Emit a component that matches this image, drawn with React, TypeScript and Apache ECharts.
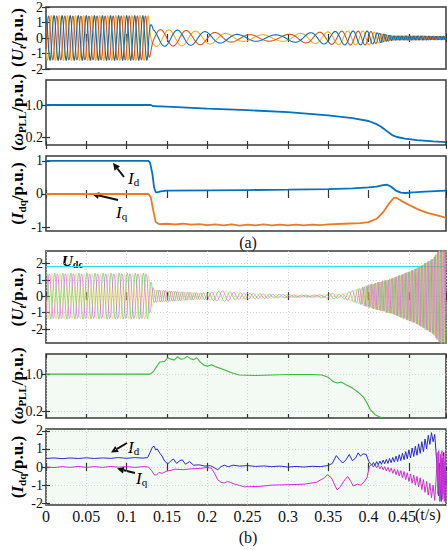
import React, { useEffect, useRef } from 'react';
import * as echarts from 'echarts';

// ---------- shared time axis ----------
const X_MAX = 0.496;
const X_INTERVAL = 0.05;

// ---------- tick labels ----------
const TICKS_UT = [-2, -1, 0, 1, 2];
const TICKS_W = [0.2, 1.0];
const TICKS_IDQ_A = [-1, 0, 1];
const TICKS_IDQ_B = [-2, -1, 0, 1, 2];

// ---------- (a) Ut: envelope / period keyframes ----------
const A_UT_T = [0, 0.127, 0.133, 0.17, 0.2, 0.24, 0.29, 0.33, 0.37, 0.4, 0.415, 0.43, 0.496];
const A_UT_AMP = [1.45, 1.45, 0.55, 0.5, 0.4, 0.22, 0.2, 0.35, 0.45, 0.45, 0.3, 0.15, 0.12];
const A_UT_PER = [0.01, 0.01, 0.03, 0.033, 0.037, 0.045, 0.05, 0.035, 0.022, 0.015, 0.008, 0.005, 0.0045];

// ---------- (a) wPLL ----------
const A_W: [number, number][] = [
  [0, 1], [0.13, 1], [0.133, 0.97], [0.15, 0.96], [0.2, 0.91], [0.25, 0.87], [0.3, 0.82],
  [0.35, 0.74], [0.38, 0.67], [0.4, 0.6], [0.41, 0.52], [0.415, 0.46], [0.42, 0.39],
  [0.425, 0.31], [0.43, 0.24], [0.435, 0.2], [0.445, 0.16], [0.46, 0.12], [0.48, 0.09], [0.496, 0.07],
];

// ---------- (a) Idq ----------
const A_ID: [number, number][] = [
  [0, 1], [0.127, 1], [0.129, 0.95], [0.132, 0.6], [0.134, 0.2], [0.136, 0.06], [0.138, 0.05],
  [0.142, 0.08], [0.15, 0.1], [0.2, 0.11], [0.25, 0.12], [0.3, 0.13], [0.35, 0.15], [0.38, 0.17],
  [0.4, 0.2], [0.41, 0.22], [0.418, 0.27], [0.423, 0.28], [0.428, 0.22], [0.434, 0.1], [0.44, 0.04],
  [0.446, 0.03], [0.455, 0.05], [0.47, 0.07], [0.496, 0.1],
];
const A_IQ: [number, number][] = [
  [0, 0], [0.127, 0], [0.13, -0.1], [0.133, -0.5], [0.136, -0.85], [0.14, -0.91], [0.15, -0.9],
  [0.16, -0.92], [0.17, -0.9], [0.18, -0.93], [0.19, -0.91], [0.2, -0.94], [0.21, -0.92],
  [0.22, -0.95], [0.23, -0.92], [0.24, -0.96], [0.25, -0.93], [0.26, -0.95], [0.27, -0.92],
  [0.28, -0.95], [0.29, -0.93], [0.3, -0.95], [0.31, -0.93], [0.32, -0.95], [0.33, -0.93],
  [0.34, -0.94], [0.35, -0.92], [0.37, -0.9], [0.39, -0.88], [0.4, -0.85], [0.41, -0.75],
  [0.418, -0.55], [0.425, -0.3], [0.431, -0.12], [0.435, -0.12], [0.44, -0.2], [0.45, -0.33],
  [0.46, -0.45], [0.47, -0.55], [0.48, -0.62], [0.49, -0.68], [0.496, -0.72],
];

// ---------- (b) Ut: envelope / period keyframes ----------
const B_UT_T = [0, 0.126, 0.134, 0.16, 0.19, 0.205, 0.22, 0.24, 0.28, 0.32, 0.345, 0.355, 0.365, 0.38, 0.39, 0.4, 0.43, 0.46, 0.48, 0.49, 0.496];
const B_UT_AMP = [1.4, 1.4, 0.4, 0.3, 0.2, 0.25, 0.33, 0.2, 0.12, 0.06, 0.08, 0.2, 0.08, 0.35, 0.5, 0.7, 1.1, 1.7, 2.3, 3.0, 3.2];
const B_UT_PER = [0.01, 0.01, 0.0075, 0.0075, 0.008, 0.012, 0.015, 0.012, 0.012, 0.015, 0.02, 0.012, 0.012, 0.012, 0.006, 0.0045, 0.0042, 0.004, 0.004, 0.004, 0.004];
const B_UDC: [number, number][] = [[0, 1.8], [0.1, 1.81], [0.2, 1.8], [0.3, 1.81], [0.4, 1.8], [0.496, 1.8]];

// ---------- (b) wPLL ----------
const B_W: [number, number][] = [
  [0, 1], [0.129, 1], [0.133, 1.05], [0.138, 1.18], [0.141, 1.26], [0.147, 1.27], [0.151, 1.35],
  [0.155, 1.32], [0.159, 1.3], [0.163, 1.37], [0.167, 1.32], [0.171, 1.33], [0.175, 1.38],
  [0.179, 1.33], [0.183, 1.31], [0.187, 1.35], [0.191, 1.26], [0.196, 1.19], [0.2, 1.17],
  [0.205, 1.2], [0.21, 1.16], [0.22, 1.1], [0.23, 1.03], [0.24, 0.98], [0.26, 0.97], [0.3, 0.99],
  [0.33, 0.99], [0.342, 0.98], [0.35, 0.93], [0.356, 0.84], [0.361, 0.81], [0.366, 0.83],
  [0.372, 0.77], [0.38, 0.7], [0.388, 0.6], [0.394, 0.5], [0.398, 0.38], [0.402, 0.24],
  [0.408, 0.13], [0.414, 0.08], [0.418, 0.06],
];

// ---------- (b) Idq ----------
const B_ID: [number, number][] = [
  [0, 0.47], [0.01, 0.5], [0.02, 0.46], [0.03, 0.5], [0.04, 0.47], [0.05, 0.51], [0.06, 0.47],
  [0.07, 0.5], [0.08, 0.48], [0.09, 0.52], [0.1, 0.48], [0.11, 0.52], [0.12, 0.49], [0.126, 0.52],
  [0.129, 0.8], [0.132, 1.1], [0.134, 1.15], [0.136, 0.95], [0.138, 1.0], [0.141, 0.77],
  [0.144, 0.6], [0.147, 0.33], [0.151, 0.17], [0.155, 0.35], [0.158, 0.44], [0.162, 0.2],
  [0.166, 0.35], [0.169, 0.4], [0.173, 0.15], [0.178, 0.3], [0.183, 0.1], [0.19, 0.12],
  [0.197, 0.05], [0.204, 0.07], [0.209, -0.05], [0.213, -0.15], [0.217, 0.02], [0.221, 0.1],
  [0.226, 0.02], [0.232, 0.1], [0.24, 0.05], [0.25, 0.08], [0.26, 0.03], [0.27, 0.06],
  [0.28, 0.02], [0.29, 0.05], [0.3, 0.0], [0.31, 0.03], [0.32, 0.0], [0.33, 0.04], [0.34, 0.02],
  [0.35, 0.08], [0.355, 0.2], [0.36, 0.63], [0.364, 0.4], [0.368, 0.22], [0.372, 0.4],
  [0.376, 0.69], [0.38, 0.35], [0.384, 0.5], [0.387, 0.78], [0.39, 0.6], [0.393, 0.72],
  [0.397, 0.7], [0.4, 0.33],
  [0.402, 0.2], [0.404, 0.1], [0.406, 0.25], [0.408, 0.1], [0.41, 0.3], [0.412, 0.12],
  [0.414, 0.33], [0.416, 0.15], [0.418, 0.38], [0.42, 0.18], [0.422, 0.42], [0.424, 0.2],
  [0.426, 0.47], [0.428, 0.24], [0.43, 0.53], [0.432, 0.27], [0.434, 0.6], [0.436, 0.3],
  [0.438, 0.68], [0.44, 0.35], [0.442, 0.76], [0.444, 0.4], [0.446, 0.85], [0.448, 0.45],
  [0.45, 0.95], [0.452, 0.5], [0.454, 1.05], [0.456, 0.58], [0.458, 1.15], [0.46, 0.65],
  [0.462, 1.28], [0.464, 0.75], [0.466, 1.4], [0.468, 0.85], [0.47, 1.55], [0.472, 1.0],
  [0.474, 1.75], [0.476, 1.25], [0.478, 1.9], [0.48, 1.4], [0.482, 1.8], [0.484, 0.6],
  [0.486, -0.8], [0.487, -1.6], [0.488, 0.2], [0.489, -1.2], [0.49, -1.9], [0.491, 0.5],
  [0.492, -1.5], [0.493, 0.8], [0.494, -1.7], [0.495, 0.3], [0.496, -1.0],
];
const B_IQ: [number, number][] = [
  [0, 0.0], [0.01, -0.03], [0.02, 0.02], [0.03, -0.02], [0.04, 0.03], [0.05, -0.02], [0.06, 0.02],
  [0.07, -0.02], [0.08, 0.03], [0.09, -0.01], [0.1, 0.02], [0.11, -0.02], [0.12, 0.02],
  [0.127, 0.0], [0.131, -0.2], [0.134, -0.42], [0.137, -0.45], [0.14, -0.3], [0.144, -0.35],
  [0.15, -0.22], [0.155, -0.18], [0.16, -0.12], [0.17, -0.15], [0.18, -0.1], [0.19, -0.08],
  [0.2, -0.03], [0.205, -0.06], [0.209, -0.35], [0.213, -0.7], [0.217, -0.85], [0.221, -0.88],
  [0.225, -0.8], [0.229, -0.85], [0.234, -0.95], [0.24, -1.02], [0.246, -1.1], [0.255, -1.08],
  [0.265, -1.07], [0.28, -1.0], [0.3, -0.98], [0.32, -0.95], [0.335, -0.85], [0.345, -0.6],
  [0.349, -0.43], [0.354, -0.6], [0.358, -1.0], [0.361, -1.26], [0.365, -1.1], [0.369, -0.8],
  [0.374, -0.52], [0.378, -0.8], [0.381, -1.05], [0.386, -0.95], [0.39, -1.0], [0.394, -0.85],
  [0.398, -0.6], [0.401, 0.04],
  [0.402, 0.05], [0.404, 0.15], [0.406, 0.0], [0.408, 0.12], [0.41, -0.05], [0.412, 0.1],
  [0.414, -0.1], [0.416, 0.06], [0.418, -0.16], [0.42, 0.02], [0.422, -0.22], [0.424, -0.02],
  [0.426, -0.28], [0.428, -0.06], [0.43, -0.35], [0.432, -0.1], [0.434, -0.42], [0.436, -0.15],
  [0.438, -0.5], [0.44, -0.2], [0.442, -0.6], [0.444, -0.25], [0.446, -0.7], [0.448, -0.32],
  [0.45, -0.8], [0.452, -0.38], [0.454, -0.9], [0.456, -0.45], [0.458, -1.0], [0.46, -0.52],
  [0.462, -1.1], [0.464, -0.6], [0.466, -1.25], [0.468, -0.7], [0.47, -1.4], [0.472, -0.8],
  [0.474, -1.55], [0.476, -0.9], [0.478, -1.7], [0.48, -1.0], [0.482, -1.85], [0.484, -0.5],
  [0.485, 0.8], [0.486, -1.5], [0.487, 0.9], [0.488, -1.9], [0.489, 0.7], [0.49, -1.6],
  [0.491, 0.9], [0.492, -1.8], [0.493, 0.6], [0.494, -1.9], [0.495, 0.8], [0.496, -1.4],
];

// piecewise-linear lookup of a keyframe table
function lookup(ts: number[], vs: number[], t: number) {
  if (t <= ts[0]) return vs[0];
  for (let i = 1; i < ts.length; i++) {
    if (t <= ts[i]) {
      const f = (t - ts[i - 1]) / (ts[i] - ts[i - 1]);
      return vs[i - 1] + f * (vs[i] - vs[i - 1]);
    }
  }
  return vs[vs.length - 1];
}

// three-phase carrier following the read envelope and period
function threePhase(ts: number[], amps: number[], pers: number[], phase0: number) {
  const out: [number, number][][] = [[], [], []];
  const dt = 0.0002;
  const n = Math.round(X_MAX / dt);
  let ph = phase0;
  for (let i = 0; i <= n; i++) {
    const t = i * dt;
    const a = lookup(ts, amps, t);
    const p = lookup(ts, pers, t);
    for (let k = 0; k < 3; k++) {
      out[k].push([t, a * Math.sin(ph - (k * 2 * Math.PI) / 3)]);
    }
    ph += (2 * Math.PI * dt) / p;
  }
  return out;
}

const SERIF = "'Liberation Serif', 'Times New Roman', serif";

export default function App() {
  const ref = useRef<HTMLDivElement>(null);
  useEffect(() => {
    if (!ref.current) return;
    const chart = echarts.init(ref.current, null, { renderer: 'svg' });

    const grids = [
      { top: 6, height: 63, bg: '#ffffff', split: false },
      { top: 80, height: 65, bg: '#ffffff', split: false },
      { top: 156, height: 75, bg: '#ffffff', split: false },
      { top: 251, height: 92, bg: '#ffffff', split: true },
      { top: 354, height: 64, bg: '#f3f9f3', split: true },
      { top: 429, height: 76, bg: '#f3f9f3', split: true },
    ];
    const yCfg = [
      { min: -2, max: 2, labels: TICKS_UT, step: 1, fmt: (v: number) => String(v) },
      { min: 0, max: 1.625, labels: TICKS_W, step: 0.2, fmt: (v: number) => v.toFixed(1) },
      { min: -1.12, max: 1.15, labels: TICKS_IDQ_A, step: 1, fmt: (v: number) => String(v) },
      { min: -2.85, max: 2.75, labels: TICKS_UT, step: 1, fmt: (v: number) => String(v) },
      { min: 0.06, max: 1.43, labels: TICKS_W, step: 0.2, fmt: (v: number) => v.toFixed(1) },
      { min: -2.1, max: 2.1, labels: TICKS_IDQ_B, step: 1, fmt: (v: number) => String(v) },
    ];

    const tickStyle = { inside: true, length: 4, lineStyle: { color: '#333', width: 1.2 } };
    const splitStyle = { show: true, lineStyle: { color: '#c8c8c8', type: [1, 2] as any, width: 0.8 } };

    const xAxis: any[] = [];
    const yAxis: any[] = [];
    grids.forEach((g, i) => {
      const last = i === grids.length - 1;
      xAxis.push({
        type: 'value', gridIndex: i, min: 0, max: X_MAX, interval: X_INTERVAL,
        axisLine: { show: false }, axisTick: tickStyle,
        axisLabel: {
          show: last, showMaxLabel: false, margin: 3, fontSize: 16, color: '#111', fontFamily: SERIF,
          formatter: (v: number) => {
            const s = String(+v.toFixed(2));
            return s === '0.45' ? '{r|0.45}' : s;
          },
          rich: { r: { fontSize: 16, fontFamily: SERIF, color: '#111', padding: [0, 14, 0, 0] } },
        },
        splitLine: g.split ? splitStyle : { show: false },
      });
      xAxis.push({
        type: 'value', gridIndex: i, position: 'top', min: 0, max: X_MAX, interval: X_INTERVAL,
        axisLine: { show: false }, axisTick: tickStyle, axisLabel: { show: false }, splitLine: { show: false },
      });
      const c = yCfg[i];
      yAxis.push({
        type: 'value', gridIndex: i, min: c.min, max: c.max, minInterval: c.step, maxInterval: c.step,
        axisLine: { show: false },
        axisTick: { ...tickStyle, customValues: c.labels },
        axisLabel: {
          customValues: c.labels, margin: 3, fontSize: 14, color: '#111', fontFamily: SERIF,
          formatter: c.fmt,
        },
        splitLine: g.split ? splitStyle : { show: false },
      });
      yAxis.push({
        type: 'value', gridIndex: i, position: 'right', min: c.min, max: c.max,
        axisLine: { show: false },
        axisTick: { ...tickStyle, customValues: c.labels },
        axisLabel: { show: false }, splitLine: { show: false },
      });
    });

    const line = (gi: number, data: any[], color: string, width: number, opacity = 1) => ({
      type: 'line', xAxisIndex: 2 * gi, yAxisIndex: 2 * gi, data, showSymbol: false, symbol: 'none',
      lineStyle: { color, width, opacity }, itemStyle: { color }, z: 2, clip: true, silent: true,
    });

    const aUt = threePhase(A_UT_T, A_UT_AMP, A_UT_PER, Math.PI / 2);
    const bUt = threePhase(B_UT_T, B_UT_AMP, B_UT_PER, Math.PI);

    const series: any[] = [
      line(0, aUt[2], '#EDB120', 1.1),
      line(0, aUt[1], '#D95319', 1.1),
      line(0, aUt[0], '#0072BD', 1.1),
      line(1, A_W, '#0072BD', 1.8),
      line(2, A_ID, '#0072BD', 1.8),
      line(2, A_IQ, '#EC7A24', 1.8),
      line(3, B_UDC, '#2FE0E6', 1.2),
      line(3, bUt[0], '#E0DA3A', 0.8, 0.85),
      line(3, bUt[1], '#44CC44', 0.8, 0.8),
      line(3, bUt[2], '#EE4CEE', 0.8, 0.75),
      line(4, B_W, '#3DB83D', 1.1),
      line(5, B_ID, '#2B2BD0', 1.0),
      line(5, B_IQ, '#D030D0', 1.0),
    ];

    const rich = {
      b: { fontFamily: SERIF, fontWeight: 'bold', fontSize: 17, lineHeight: 20, color: '#111' },
      i: { fontFamily: SERIF, fontWeight: 'bold', fontStyle: 'italic', fontSize: 17, lineHeight: 20, color: '#111' },
      s: { fontFamily: SERIF, fontWeight: 'bold', fontSize: 11, lineHeight: 11, verticalAlign: 'bottom', color: '#111' },
      si: { fontFamily: SERIF, fontWeight: 'bold', fontStyle: 'italic', fontSize: 11, lineHeight: 11, verticalAlign: 'bottom', color: '#111' },
    };
    const title = (y: number, text: string) => ({
      type: 'text', x: 17, y, rotation: Math.PI / 2,
      style: { text, rich, align: 'center', verticalAlign: 'middle' },
    });
    const ann = (x: number, y: number, text: string) => ({
      type: 'text', x, y,
      style: {
        text, align: 'left', verticalAlign: 'middle',
        rich: {
          i: { fontFamily: SERIF, fontStyle: 'italic', fontSize: 17, lineHeight: 18, color: '#111' },
          s: { fontFamily: SERIF, fontSize: 11, lineHeight: 11, verticalAlign: 'bottom', color: '#111' },
        },
      },
    });
    const arrow = (x1: number, y1: number, x2: number, y2: number) => {
      const dx = x2 - x1, dy = y2 - y1, L = Math.hypot(dx, dy);
      const ux = dx / L, uy = dy / L;
      const hl = 7, hw = 3.5;
      const bx = x2 - ux * hl, by = y2 - uy * hl;
      return [
        { type: 'line', shape: { x1, y1, x2: bx, y2: by }, style: { stroke: '#111', lineWidth: 2 } },
        {
          type: 'polygon',
          shape: { points: [[x2, y2], [bx - uy * hw, by + ux * hw], [bx + uy * hw, by - ux * hw]] },
          style: { fill: '#111' },
        },
      ];
    };
    const plain = (x: number, y: number, text: string, align = 'center') => ({
      type: 'text', x, y,
      style: { text, fontFamily: SERIF, fontSize: 16, fill: '#111', align, verticalAlign: 'middle' },
    });

    const graphic: any[] = [
      title(37.5, '{b|(}{i|U}{si|t}{b|/p.u.)}'),
      title(112.5, '{b|(}{i|ω}{s|PLL}{b|/p.u.)}'),
      title(193.5, '{b|(}{i|I}{s|dq}{b|/p.u.)}'),
      title(297, '{b|(}{i|U}{si|t}{b|/p.u.)}'),
      title(386, '{b|(}{i|ω}{s|PLL}{b|/p.u.)}'),
      title(467, '{b|(}{i|I}{s|dq}{b|/p.u.)}'),
      ann(128, 178, '{i|I}{s|d}'),
      ann(116, 212, '{i|I}{s|q}'),
      ...arrow(124, 177, 113, 163),
      ...arrow(118, 200, 92, 194),
      ann(128, 447, '{i|I}{s|d}'),
      ann(136, 478, '{i|I}{s|q}'),
      ...arrow(127, 443, 111, 452.5),
      ...arrow(135, 473, 117, 468.5),
      {
        type: 'text', x: 62, y: 261,
        style: {
          text: '{i|U}{s|dc}', align: 'left', verticalAlign: 'middle',
          rich: {
            i: { fontFamily: SERIF, fontWeight: 'bold', fontStyle: 'italic', fontSize: 15, lineHeight: 17, color: '#111' },
            s: { fontFamily: SERIF, fontWeight: 'bold', fontSize: 10, lineHeight: 10, verticalAlign: 'bottom', color: '#111' },
          },
        },
      },
      plain(248, 242, '(a)'),
      plain(248, 537, '(b)'),
      plain(415, 514, '(t/s)', 'left'),
    ];

    chart.setOption({
      animation: false,
      backgroundColor: '#ffffff',
      grid: grids.map((g) => ({
        left: 46, width: 400, top: g.top, height: g.height, show: true,
        backgroundColor: g.bg, borderColor: '#3a3a3a', borderWidth: 1.5,
      })),
      xAxis, yAxis, series, graphic,
    });
    return () => chart.dispose();
  }, []);
  return <div ref={ref} style={{ position: 'absolute', left: 0, top: 0, width: 447, height: 550 }} />;
}
